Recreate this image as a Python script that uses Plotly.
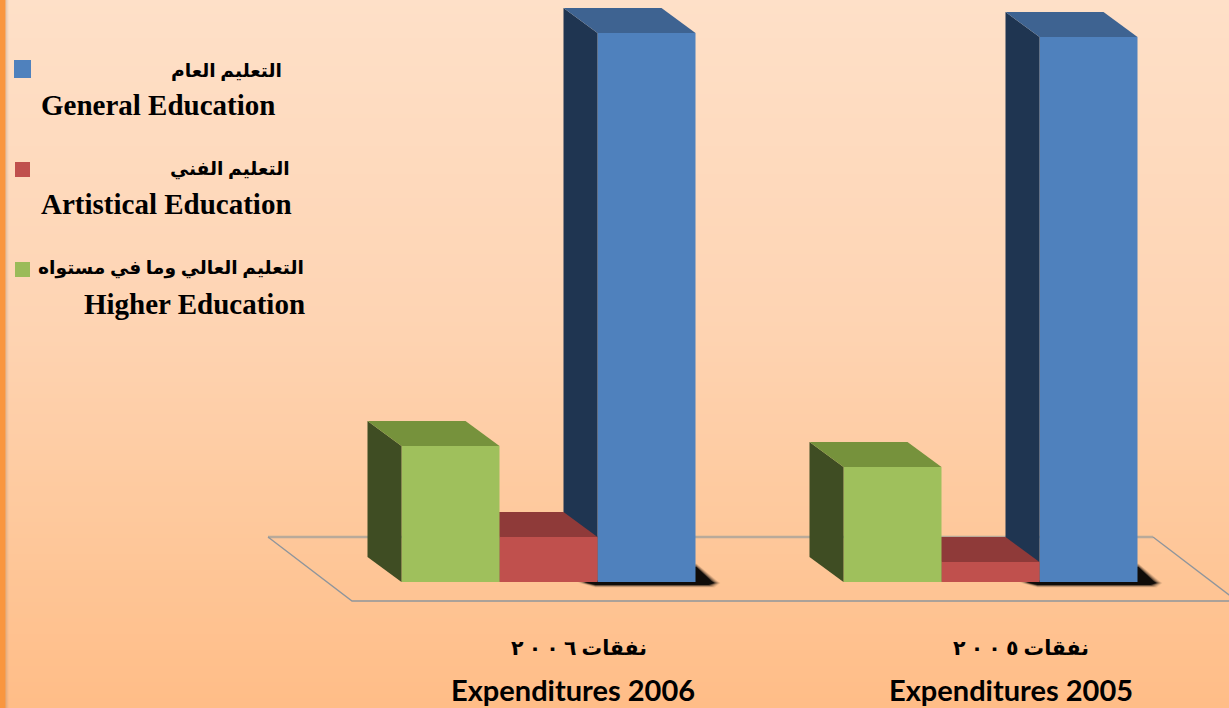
import plotly.graph_objects as go

# ---------- data (1 unit = 1 px of bar height) ----------
categories = ["Expenditures 2006", "Expenditures 2005"]
categories_ar = ["نفقات ٦ ٠ ٠ ٢", "نفقات ٥ ٠ ٠ ٢"]
higher_values = [136, 115]
artistical_values = [45, 20]
general_values = [549, 545]

series_en = ["General Education", "Artistical Education", "Higher Education"]
series_ar = ["التعليم العام", "التعليم الفني", "التعليم العالي وما في مستواه"]

# ---------- layout constants ----------
W, H = 1229, 708
BASE_PX = 582
PX_PER_CAT = 442.0
ORIGIN_PX = 548.5
BAR_PX = 98.0
DEPTH_X = 34 / PX_PER_CAT
DEPTH_Y = 25
BW = BAR_PX / PX_PER_CAT
X_RANGE = [-ORIGIN_PX / PX_PER_CAT, (W - ORIGIN_PX) / PX_PER_CAT]
Y_RANGE = [BASE_PX - H, BASE_PX]

fig = go.Figure()

# ---------- background gradient ----------
stops = [(0, "#fee0c8"), (0.45, "#fed4b3"), (0.75, "#fec89b"), (1, "#ffbd87")]
rows = list(range(-4, H + 8, 4))
fig.add_trace(go.Heatmap(x=[-10, W + 10], y=rows, z=[[r, r] for r in rows], zmin=0, zmax=H,
                         colorscale=[[a, c] for a, c in stops], showscale=False,
                         hoverinfo="skip", xaxis="x", yaxis="y"))


def poly(xs, ys, color, xa, ya, width=0):
    fig.add_trace(go.Scatter(x=xs, y=ys, mode="lines", fill="toself", fillcolor=color,
                             line=dict(width=width, color=color), hoverinfo="skip",
                             showlegend=False, xaxis=xa, yaxis=ya))


def line(xs, ys, color, width):
    fig.add_trace(go.Scatter(x=xs, y=ys, mode="lines", line=dict(color=color, width=width),
                             hoverinfo="skip", showlegend=False, xaxis="x", yaxis="y"))


# ---------- floor ----------
line([268, 1153], [537, 537], "#b9aa9a", 2.4)
line([268, 352, W + 5], [537, 601, 601], "#8f959c", 1.4)
line([1153, W + 5], [537, 537 + (W + 5 - 1153) * 64 / 84], "#8f959c", 1.4)

# ---------- soft shadows under the tall bars ----------
for i in range(len(categories)):
    L = ORIGIN_PX + i * PX_PER_CAT + BAR_PX / 2
    R = L + BAR_PX
    for g, a in [(6, 0.07), (5, 0.09), (4, 0.12), (3, 0.16), (2, 0.22), (1, 0.35), (0, 0.8)]:
        poly([R - 4, R + 1, R + 16 + g, R + 19 + g, R + 13 + g, L - 2, L - 13 - g * 1.2, L - 2, R - 4],
             [BASE_PX - 15 - g * 0.6, BASE_PX - 15 - g * 0.6, BASE_PX - 1, BASE_PX + 1, BASE_PX + 3 + g * 0.4,
              BASE_PX + 3 + g * 0.4, BASE_PX + 0.5, BASE_PX - 1, BASE_PX - 15 - g * 0.6],
             f"rgba(0,0,0,{a})", "x", "y")

# ---------- 3-D bars, drawn from the back (right) to the front (left) ----------
bar_specs = [
    (general_values, series_en[0], 1, "#4f81bd", "#3e6391", "#1f3551", "x2", "y2"),
    (artistical_values, series_en[1], 0, "#c0504d", "#8f3a39", "#5a2423", "x3", "y3"),
    (higher_values, series_en[2], -1, "#9fc05c", "#76923c", "#3f4d23", "x4", "y4"),
]
for values, name, slot, front, top, side, xa, ya in bar_specs:
    centres = [i + slot * BW for i in range(len(values))]
    for c, v in zip(centres, values):
        l, r = c - BW / 2, c + BW / 2
        poly([l, l - DEPTH_X, l - DEPTH_X, l, l], [0, DEPTH_Y, v + DEPTH_Y, v, 0], side, xa, ya)
        poly([l, l - DEPTH_X, r - DEPTH_X, r, l], [v, v + DEPTH_Y, v + DEPTH_Y, v, v], top, xa, ya)
    fig.add_trace(go.Bar(x=centres, y=values, width=BW, name=name, marker=dict(color=front, line=dict(width=0)),
                         hoverinfo="skip", showlegend=False, xaxis=xa, yaxis=ya))

# ---------- category labels ----------
annotations = []
en_shift = [24.5, 20.5]
ar_shift = [30, 30.5]
for i in range(len(categories)):
    annotations.append(dict(text=categories_ar[i], x=i, xref="x2", xshift=ar_shift[i], y=1 - 648 / H, yref="paper",
                            showarrow=False, xanchor="center", yanchor="middle",
                            font=dict(family="Liberation Serif, DejaVu Sans", size=20.5, color="#000000", weight="bold")))
    annotations.append(dict(text=categories[i], x=i, xref="x2", xshift=en_shift[i], y=1 - 689 / H, yref="paper",
                            showarrow=False, xanchor="center", yanchor="middle",
                            font=dict(family="Lato, Open Sans", size=29, color="#000000", weight="bold")))

# ---------- legend (hand-placed as in the source) ----------
leg_ar = [(284, 70), (292, 169), (306, 268)]
leg_en = [(277, 105), (294, 204), (307, 304)]
for k in range(3):
    annotations.append(dict(text=series_ar[k], x=leg_ar[k][0] / W, y=1 - leg_ar[k][1] / H, xref="paper", yref="paper",
                            showarrow=False, xanchor="right", yanchor="middle",
                            font=dict(family="Liberation Serif, DejaVu Sans", size=18.7, color="#000000", weight="bold")))
    annotations.append(dict(text=series_en[k], x=leg_en[k][0] / W, y=1 - leg_en[k][1] / H, xref="paper", yref="paper",
                            showarrow=False, xanchor="right", yanchor="middle",
                            font=dict(family="Liberation Serif", size=29, color="#000000", weight="bold")))

swatches = [(14, 60, 31, 78, "#4f81bd"), (15, 162, 30, 177, "#c0504d"), (15, 262, 30, 277, "#9bbb59")]
shapes = [dict(type="rect", xref="paper", yref="paper", x0=a / W, x1=c / W, y0=1 - b / H, y1=1 - d / H,
               fillcolor=col, line=dict(width=0)) for a, b, c, d, col in swatches]
# left page strip
shapes.append(dict(type="rect", xref="paper", yref="paper", x0=0, x1=5.5 / W, y0=0, y1=1,
                   fillcolor="#f9963f", line=dict(width=0)))
for x0, x1, a in [(5.5, 6.5, 0.22), (6.5, 7.5, 0.12), (7.5, 8.5, 0.06)]:
    shapes.append(dict(type="rect", xref="paper", yref="paper", x0=x0 / W, x1=x1 / W, y0=0, y1=1,
                       fillcolor=f"rgba(120,100,80,{a})", line=dict(width=0)))

hidden = dict(visible=False, fixedrange=True)
fig.update_layout(
    width=W, height=H, margin=dict(l=0, r=0, t=0, b=0), autosize=False,
    paper_bgcolor="#fed4b3", plot_bgcolor="rgba(0,0,0,0)", showlegend=False,
    annotations=annotations, shapes=shapes,
    xaxis=dict(range=[0, W], **hidden),
    yaxis=dict(range=[H, 0], **hidden),
    xaxis2=dict(range=X_RANGE, overlaying="x", anchor="y2", **hidden),
    yaxis2=dict(range=Y_RANGE, overlaying="y", anchor="x2", **hidden),
    xaxis3=dict(range=X_RANGE, overlaying="x", anchor="y3", **hidden),
    yaxis3=dict(range=Y_RANGE, overlaying="y", anchor="x3", **hidden),
    xaxis4=dict(range=X_RANGE, overlaying="x", anchor="y4", **hidden),
    yaxis4=dict(range=Y_RANGE, overlaying="y", anchor="x4", **hidden),
)

fig.write_html("out.html", config=dict(displayModeBar=False),
               post_script="document.body.style.margin='0';document.body.style.overflow='hidden';")
